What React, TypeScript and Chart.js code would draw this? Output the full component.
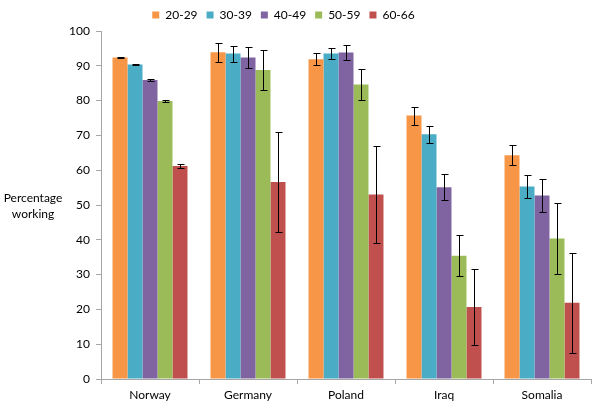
import React, { useEffect, useRef } from "react";
import { Chart, registerables } from "chart.js";
Chart.register(...registerables);

const countries = ["Norway", "Germany", "Poland", "Iraq", "Somalia"];
const ageGroups = ["20-29", "30-39", "40-49", "50-59", "60-66"];
const colors = ["#F79646", "#4BACC6", "#8064A2", "#9BBB59", "#C0504D"];

const v2029 = [92.4, 93.9, 91.9, 75.7, 64.3];
const v3039 = [90.4, 93.5, 93.5, 70.3, 55.3];
const v4049 = [85.9, 92.4, 93.8, 55.1, 52.7];
const v5059 = [79.9, 88.8, 84.6, 35.4, 40.4];
const v6066 = [61.2, 56.6, 53.0, 20.7, 21.9];

const e2029 = [0.2, 2.7, 1.7, 2.6, 2.9];
const e3039 = [0.2, 2.3, 1.6, 2.5, 3.3];
const e4049 = [0.3, 2.9, 2.2, 3.75, 4.65];
const e5059 = [0.3, 5.8, 4.5, 5.85, 10.1];
const e6066 = [0.5, 14.3, 14.0, 11.0, 14.3];

const yTicks = [0, 10, 20, 30, 40, 50, 60, 70, 80, 90, 100];
const yTitle = ["Percentage", "working"];

const values = [v2029, v3039, v4049, v5059, v6066];
const errors = [e2029, e3039, e4049, e5059, e6066];

const FONT = "Lato";

const errorBarPlugin = {
  id: "errorBars",
  afterDatasetsDraw(chart: any) {
    const ctx = chart.ctx;
    const yScale = chart.scales.y;
    ctx.save();
    ctx.strokeStyle = "#000";
    ctx.lineWidth = 1;
    chart.data.datasets.forEach((ds: any, di: number) => {
      const meta = chart.getDatasetMeta(di);
      meta.data.forEach((bar: any, i: number) => {
        const v = ds.data[i];
        const e = ds.errors[i];
        const x = Math.round(bar.x) + 0.5;
        const yt = Math.round(yScale.getPixelForValue(v + e)) + 0.5;
        const yb = Math.round(yScale.getPixelForValue(v - e)) + 0.5;
        ctx.beginPath();
        ctx.moveTo(x, yt);
        ctx.lineTo(x, yb);
        ctx.moveTo(x - 3, yt);
        ctx.lineTo(x + 4, yt);
        ctx.moveTo(x - 3, yb);
        ctx.lineTo(x + 4, yb);
        ctx.stroke();
      });
    });
    ctx.restore();
  },
};

const yTitlePlugin = {
  id: "yTitle",
  afterDraw(chart: any) {
    const ctx = chart.ctx;
    ctx.save();
    ctx.fillStyle = "#000";
    ctx.font = `12px ${FONT}`;
    ctx.textAlign = "center";
    ctx.textBaseline = "middle";
    ctx.fillText(yTitle[0], 33, 198);
    ctx.fillText(yTitle[1], 33, 214);
    ctx.restore();
  },
};

const legendShiftPlugin = {
  id: "legendShift",
  afterLayout(chart: any) {
    const lg = chart.legend;
    if (lg) {
      lg.left -= 12;
      lg.right -= 12;
    }
  },
};

export default function App() {
  const ref = useRef<HTMLCanvasElement>(null);
  useEffect(() => {
    if (!ref.current) return;
    const chart = new Chart(ref.current, {
      type: "bar",
      data: {
        labels: countries,
        datasets: ageGroups.map((g, i) => ({
          label: g,
          data: values[i],
          errors: errors[i],
          backgroundColor: colors[i],
          borderWidth: 0,
          barPercentage: 1,
          categoryPercentage: 0.765,
        })) as any,
      },
      options: {
        responsive: false,
        animation: false,
        layout: { padding: { left: 0, right: 9, top: 0, bottom: 0 } },
        plugins: {
          legend: {
            display: true,
            position: "top",
            labels: {
              boxWidth: 7,
              boxHeight: 7,
              color: "#000",
              font: { family: FONT, size: 12 },
              padding: 9,
            },
          },
          tooltip: { enabled: false },
        },
        scales: {
          x: {
            grid: {
              display: true,
              drawOnChartArea: false,
              offset: true,
              tickLength: 5,
              color: "#A6A6A6",
            },
            border: { color: "#A6A6A6" },
            ticks: { color: "#000", font: { family: FONT, size: 12 }, padding: 4 },
            afterFit: (s: any) => {
              s.height = 37;
            },
          },
          y: {
            min: 0,
            max: 100,
            afterBuildTicks: (s: any) => {
              s.ticks = yTicks.map((v) => ({ value: v }));
            },
            grid: {
              display: true,
              drawOnChartArea: false,
              tickLength: 5,
              color: "#A6A6A6",
            },
            border: { color: "#A6A6A6" },
            ticks: { color: "#000", font: { family: FONT, size: 12 }, padding: 6 },
            afterFit: (s: any) => {
              s.width = 101;
            },
          },
        },
      },
      plugins: [errorBarPlugin, yTitlePlugin, legendShiftPlugin],
    });
    return () => chart.destroy();
  }, []);
  return (
    <div style={{ position: "absolute", left: 0, top: 0, width: 600, height: 416, background: "#fff" }}>
      <canvas ref={ref} width={600} height={416} />
    </div>
  );
}
